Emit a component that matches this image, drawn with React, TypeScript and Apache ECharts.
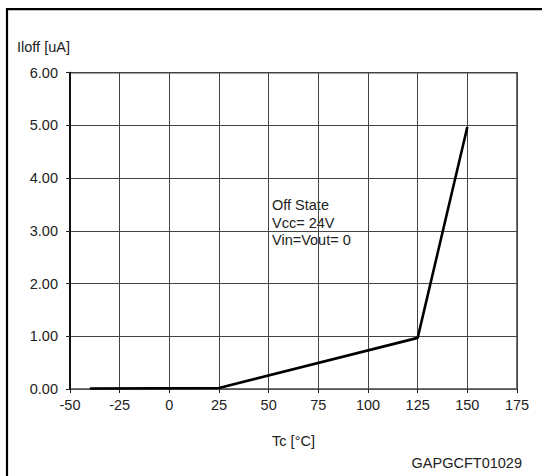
import React, { useEffect, useRef } from "react";
import * as echarts from "echarts";

const temperatures = [-40, 25, 125, 150];
const currents = [0.01, 0.02, 0.97, 4.97];
const xTicks = { min: -50, max: 175, interval: 25 };
const yTicks = { min: 0, max: 6, interval: 1 };
const annotationLines = ["Off State", "Vcc= 24V", "Vin=Vout= 0"];
const yAxisTitle = "Iloff [uA]";
const xAxisTitle = "Tc [°C]";
const figureCode = "GAPGCFT01029";

const FONT = "'Liberation Sans', Arial, Helvetica, sans-serif";
const FS = 14.5;

export default function App() {
  const ref = useRef<HTMLDivElement>(null);
  useEffect(() => {
    if (!ref.current) return;
    const chart = echarts.init(ref.current, null, { renderer: "svg" });
    const data = temperatures.map((t, i) => [t, currents[i]]);
    chart.setOption({
      animation: false,
      backgroundColor: "#fff",
      grid: {
        left: 70,
        top: 72.7,
        right: 25,
        bottom: 87,
        show: true,
        borderColor: "#444",
        borderWidth: 1.5,
        backgroundColor: "transparent",
      },
      xAxis: {
        type: "value",
        min: xTicks.min,
        max: xTicks.max,
        interval: xTicks.interval,
        name: xAxisTitle,
        nameLocation: "middle",
        nameGap: 44,
        nameTextStyle: { color: "#222", fontSize: FS, fontFamily: FONT },
        axisLine: { show: true, onZero: false, lineStyle: { color: "#555", width: 1 } },
        axisTick: { show: true, length: 4, lineStyle: { color: "#222" } },
        axisLabel: { color: "#222", fontSize: FS, fontFamily: FONT, margin: 8 },
        splitLine: { show: true, lineStyle: { color: "#444", width: 1 } },
      },
      yAxis: {
        type: "value",
        min: yTicks.min,
        max: yTicks.max,
        interval: yTicks.interval,
        axisLine: { show: true, onZero: false, lineStyle: { color: "#111", width: 2 } },
        axisTick: { show: true, length: 4, lineStyle: { color: "#222" } },
        axisLabel: {
          color: "#222",
          fontSize: FS,
          fontFamily: FONT,
          margin: 12,
          formatter: (v: number) => v.toFixed(2),
        },
        splitLine: { show: true, lineStyle: { color: "#444", width: 1 } },
      },
      series: [
        {
          type: "line",
          data,
          showSymbol: false,
          symbol: "none",
          lineStyle: { color: "#000", width: 2.6 },
          z: 5,
        },
      ],
      graphic: [
        {
          type: "rect",
          shape: { x: 7, y: 9.2, width: 600, height: 600 },
          style: { fill: "none", stroke: "#000", lineWidth: 2.2 },
          silent: true,
        },
        {
          type: "text",
          x: 17,
          y: 47,
          style: {
            text: yAxisTitle,
            fill: "#222",
            fontSize: FS,
            fontFamily: FONT,
            verticalAlign: "middle",
            align: "left",
          },
        },
        {
          type: "text",
          x: 522,
          y: 463,
          style: {
            text: figureCode,
            fill: "#222",
            fontSize: FS,
            fontFamily: FONT,
            verticalAlign: "middle",
            align: "right",
          },
        },
        {
          type: "group",
          x: 268,
          y: 193,
          children: [
            {
              type: "rect",
              shape: { x: 1, y: 0, width: 89, height: 55 },
              style: { fill: "#fff" },
            },
            ...annotationLines.map((line, i) => ({
              type: "text",
              x: 4,
              y: 12 + i * 17.5,
              style: {
                text: line,
                fill: "#222",
                fontSize: FS,
                fontFamily: FONT,
                verticalAlign: "middle",
                align: "left",
              },
            })),
          ],
        },
      ],
    });
    return () => chart.dispose();
  }, []);
  return (
    <div
      ref={ref}
      style={{ position: "fixed", left: 0, top: 0, width: 542, height: 476 }}
    />
  );
}
